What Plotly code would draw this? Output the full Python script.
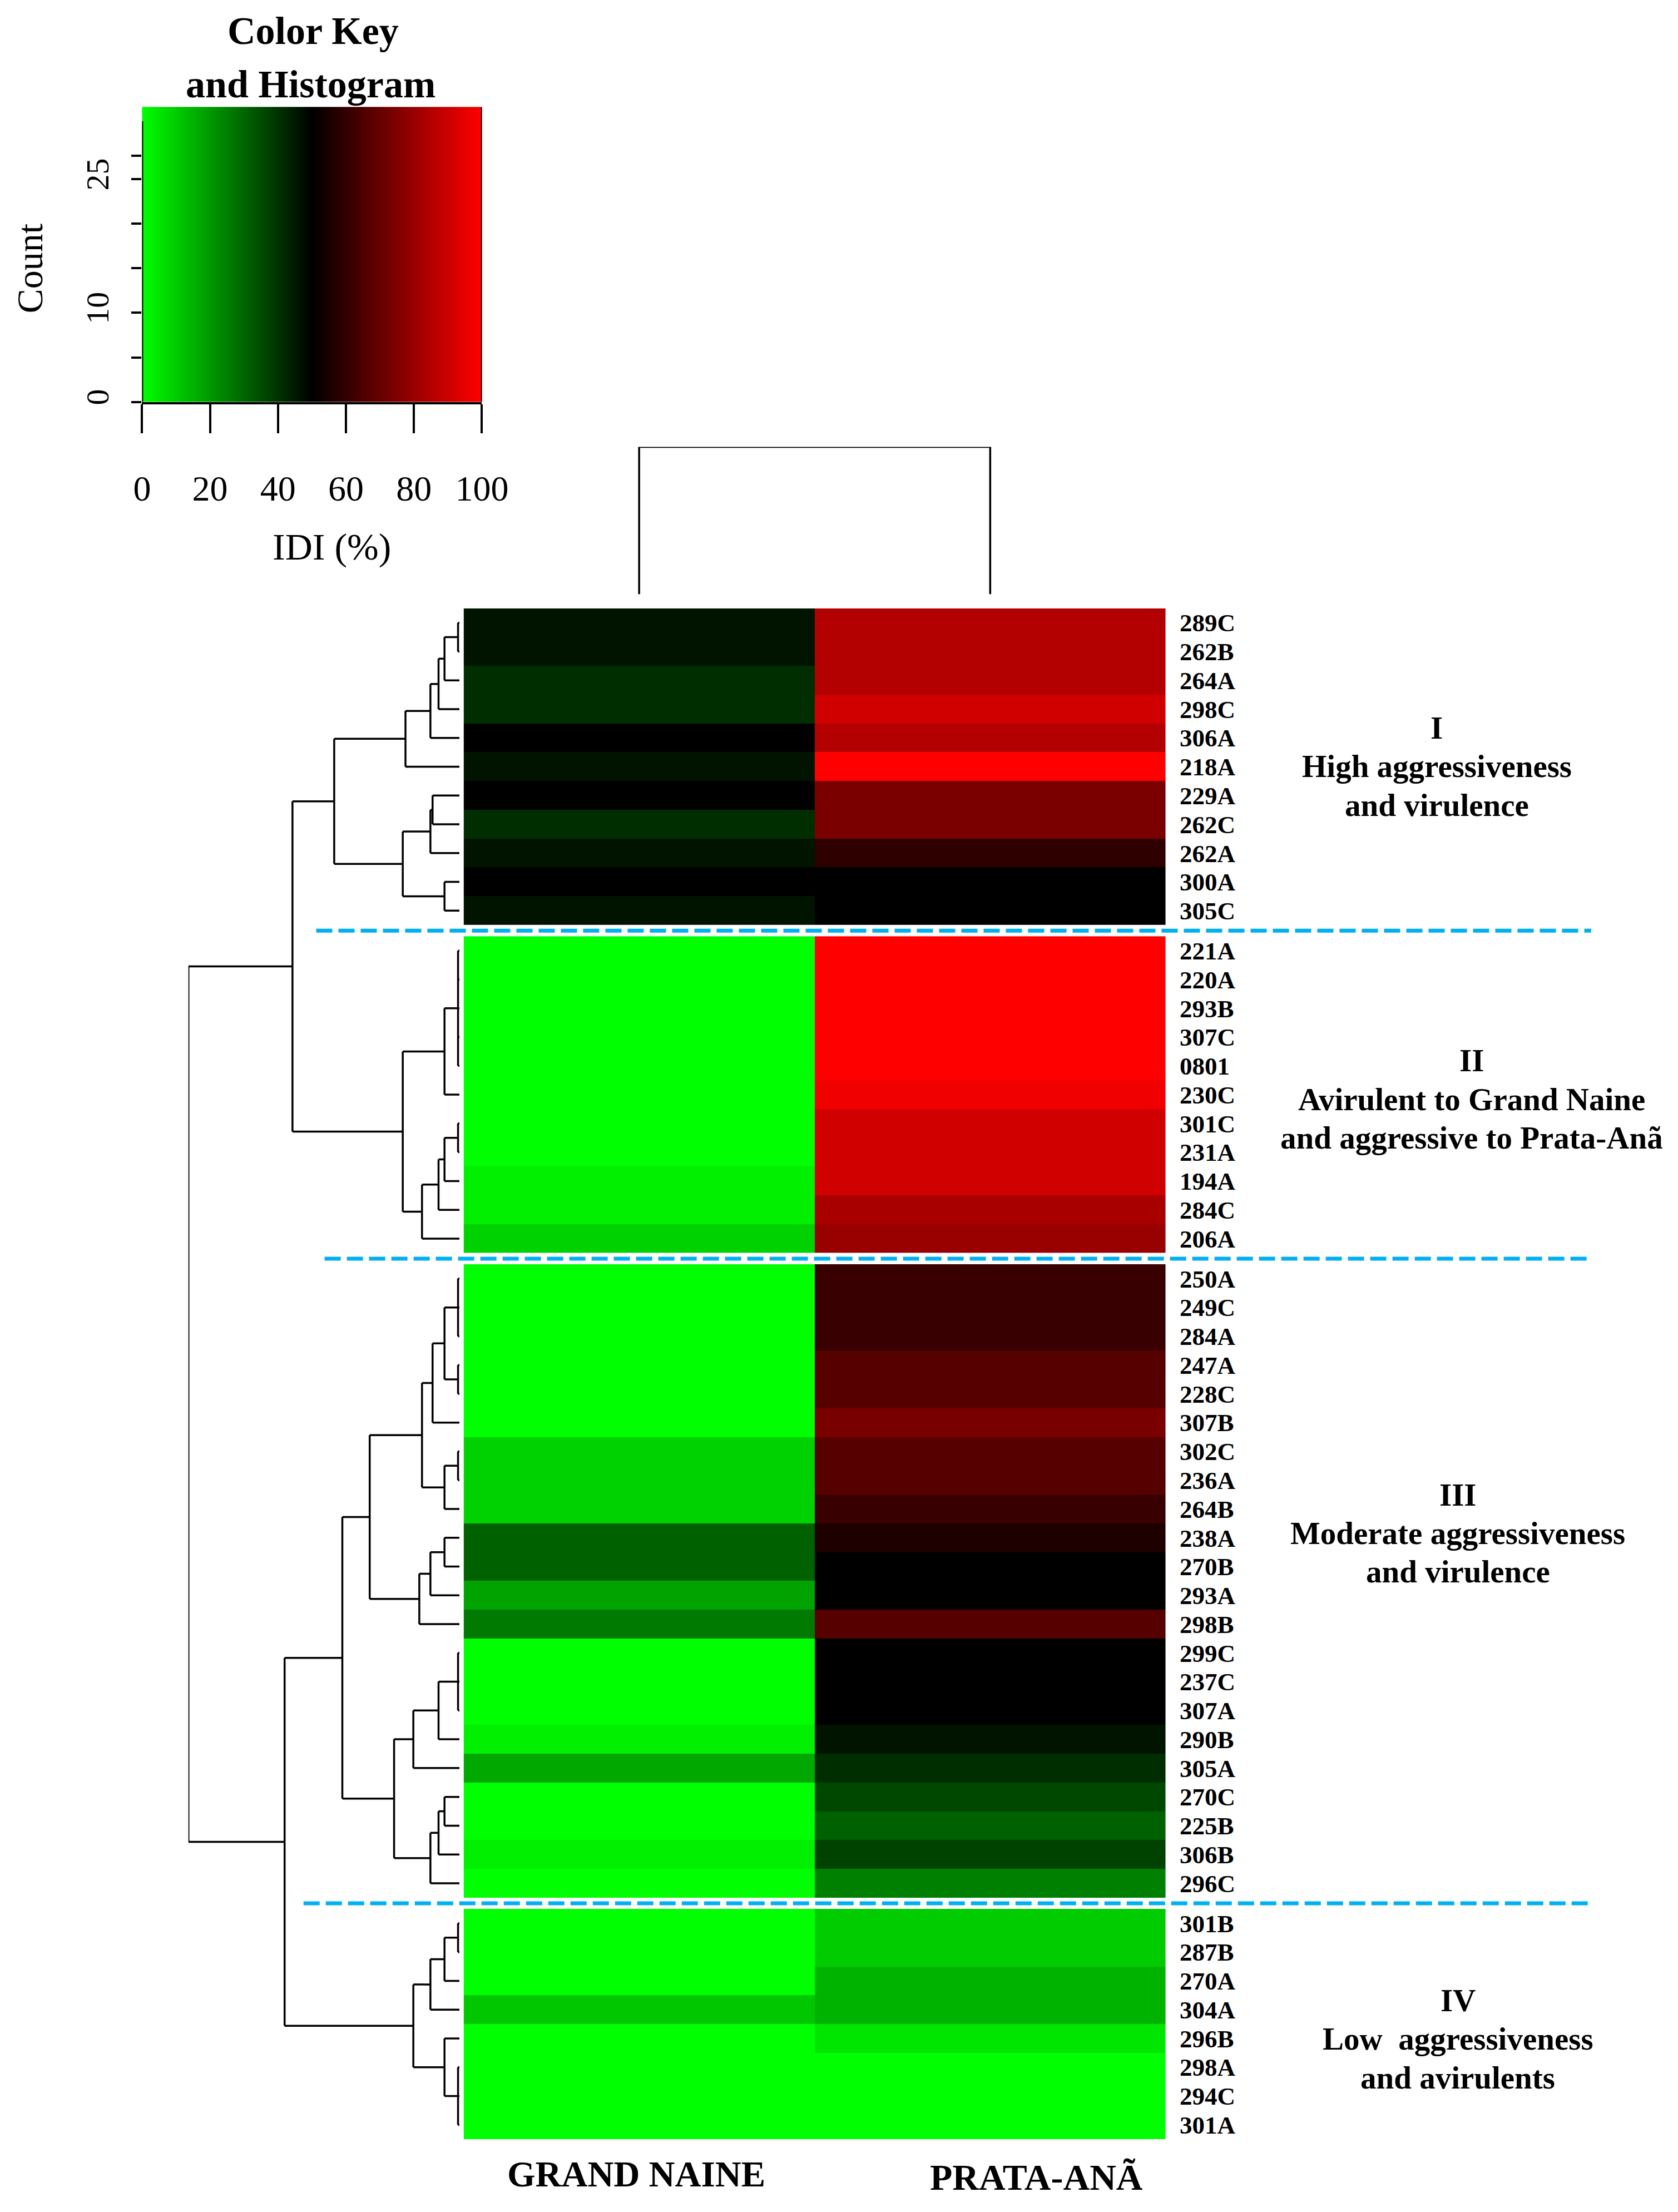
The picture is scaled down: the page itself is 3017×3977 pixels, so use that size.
import numpy as np
import plotly.graph_objects as go

# ---------------- data ----------------
cultivars = ["GRAND NAINE", "PRATA-ANÃ"]

names_I = ["289C", "262B", "264A", "298C", "306A", "218A", "229A", "262C", "262A", "300A", "305C"]
gn_I = [46, 46, 41, 41, 50, 46, 50, 41, 46, 50, 46]
pa_I = [85, 85, 85, 91, 85, 100, 74, 74, 59, 50, 50]

names_II = ["221A", "220A", "293B", "307C", "0801", "230C", "301C", "231A", "194A", "284C", "206A"]
gn_II = [0, 0, 0, 0, 0, 0, 0, 0, 3, 3, 9]
pa_II = [100, 100, 100, 100, 100, 97, 91, 91, 91, 83, 80]

names_III = ["250A", "249C", "284A", "247A", "228C", "307B", "302C", "236A", "264B", "238A", "270B",
             "293A", "298B", "299C", "237C", "307A", "290B", "305A", "270C", "225B", "306B", "296C"]
gn_III = [0, 0, 0, 0, 0, 0, 9, 9, 9, 31, 31, 18, 26, 0, 0, 0, 3, 17, 0, 0, 3, 0]
pa_III = [61, 61, 61, 67, 67, 74, 67, 67, 61, 56, 50, 50, 67, 50, 50, 50, 46, 41, 36, 31, 37, 25]

names_IV = ["301B", "287B", "270A", "304A", "296B", "298A", "294C", "301A"]
gn_IV = [0, 0, 0, 11, 0, 0, 0, 0]
pa_IV = [10, 10, 15, 15, 5, 0, 0, 0]

group_lines = [
    ["I", "High aggressiveness", "and virulence"],
    ["II", "Avirulent to Grand Naine", "and aggressive to Prata-Anã"],
    ["III", "Moderate aggressiveness", "and virulence"],
    ["IV", "Low  aggressiveness", "and avirulents"],
]

key_ticks = [0, 20, 40, 60, 80, 100]
count_ticks = [0, 5, 10, 15, 20, 25, 27.6]
count_labels = ["0", "", "10", "", "", "25", ""]


def N(h, *kids):
    return {"h": h, "kids": list(kids)}


# row dendrogram (merge heights, root = 100)
tree = N(100,
         N(61.6,
           N(46.2,
             N(19.9, N(10.7, N(7.7, N(5.5, N(0.5, "289C", "262B"), "264A"), "298C"), "306A"), "218A"),
             N(20.9, N(10.7, N(9.9, "229A", "262C"), "262A"), N(5.5, "300A", "305C"))),
           N(20.9,
             N(5.5, N(0.5, "221A", "220A", "293B", "307C", "0801"), "230C"),
             N(13.8, N(7.7, N(5.5, N(0.5, "301C", "231A"), "194A"), "284C"), "206A"))),
         N(64.5,
           N(43.2,
             N(33.1,
               N(13.8,
                 N(9.9, N(5.5, N(0.5, "250A", "249C", "284A"), N(0.5, "247A", "228C")), "307B"),
                 N(5.5, N(0.5, "302C", "236A"), "264B")),
               N(14.8, N(10.7, N(5.5, "238A", "270B"), "293A"), "298B")),
             N(24.1,
               N(17.0, N(7.7, N(0.5, "299C", "237C", "307A"), "290B"), "305A"),
               N(10.7, N(7.7, N(5.5, "270C", "225B"), "306B"), "296C"))),
           N(17.0,
             N(10.7, N(5.5, N(0.5, "301B", "287B"), "270A"), "304A"),
             N(5.5, "296B", N(0.5, "298A", "294C", "301A")))))

# ---------------- layout helpers ----------------
W, H = 3017, 3977
SW, SH = 1195.0, 1575.0   # reference sketch units


def px(x):
    return x / SW


def py(y):
    return 1 - y / SH


GAP = 0.39
clusters = [(names_I, gn_I, pa_I), (names_II, gn_II, pa_II),
            (names_III, gn_III, pa_III), (names_IV, gn_IV, pa_IV)]

row_pos = {}
all_names, all_y = [], []
cluster_rows = []
idx = 0
for k, (nm, g, p) in enumerate(clusters):
    ys = []
    for n in nm:
        yv = idx + k * GAP
        ys.append(yv)
        all_names.append(n)
        all_y.append(yv)
        idx += 1
    cluster_rows.append(ys)
    for n, yv in zip(nm, ys):
        row_pos.setdefault(n, []).append(yv)

colorscale = [[0, "#00FF00"], [0.5, "#000000"], [1, "#FF0000"]]
serif = "Liberation Serif"

fig = go.Figure()

# heatmap blocks
for (nm, g, p), ys in zip(clusters, cluster_rows):
    fig.add_trace(go.Heatmap(
        x=[0, 1], y=ys, z=[[a, b] for a, b in zip(g, p)],
        colorscale=colorscale, zmin=0, zmax=100, showscale=False,
        xaxis="x", yaxis="y", hoverinfo="skip"))

# row dendrogram
used = {}


def leaf_y(name):
    i = used.get(name, 0)
    used[name] = i + 1
    return row_pos[name][i]


dx, dy = [], []


def walk(node):
    if isinstance(node, str):
        return leaf_y(node), 0.0
    pts = [walk(c) for c in node["kids"]]
    h = node["h"]
    ys = [p[0] for p in pts]
    for (cy, ch) in pts:
        dx.extend([ch, h, None])
        dy.extend([cy, cy, None])
    dx.extend([h, h, None])
    dy.extend([min(ys), max(ys), None])
    return (min(ys) + max(ys)) / 2, h


walk(tree)
fig.add_trace(go.Scatter(x=dx, y=dy, mode="lines", xaxis="x2", yaxis="y",
                         line=dict(color="black", width=3.5), hoverinfo="skip", showlegend=False))

# column dendrogram
fig.add_trace(go.Scatter(x=[0, 0, 1, 1], y=[0, 1, 1, 0], mode="lines", xaxis="x", yaxis="y3",
                         line=dict(color="black", width=3.5), hoverinfo="skip", showlegend=False))

# color key
kx = np.linspace(0, 100, 201)
fig.add_trace(go.Heatmap(x=kx, y=[0, 33.1], z=[kx, kx], colorscale=colorscale, zmin=0, zmax=100,
                         showscale=False, xaxis="x4", yaxis="y4", hoverinfo="skip"))

total = len(all_y) - 1 + 3 * GAP

fig.update_layout(
    width=W, height=H, margin=dict(l=0, r=0, t=0, b=0, autoexpand=False),
    paper_bgcolor="white", plot_bgcolor="white", showlegend=False,
    xaxis=dict(domain=[px(327), px(827)], range=[-0.5, 1.5], visible=False, anchor="y",
               automargin=False),
    yaxis=dict(domain=[py(1520), py(430)], range=[total + 0.5, -0.5], side="right",
               tickvals=all_y, ticktext=all_names, ticks="", showgrid=False, zeroline=False,
               showline=False, ticklabelstandoff=24, automargin=False,
               tickfont=dict(family=serif, size=45, color="black", weight="bold"), anchor="x"),
    xaxis2=dict(domain=[px(131), px(324)], range=[100, 0], visible=False, anchor="y",
                automargin=False),
    yaxis3=dict(domain=[py(420), py(315)], range=[0, 1], visible=False, anchor="x",
                automargin=False),
    xaxis4=dict(domain=[px(98), px(340)], range=[0, 100], anchor="y4", automargin=False,
                tickvals=key_ticks, ticks="outside", ticklen=52, tickwidth=4, tickcolor="black",
                showline=True, linewidth=4, linecolor="black", showgrid=False, zeroline=False,
                ticklabelstandoff=45, tickfont=dict(family=serif, size=64, color="black")),
    yaxis4=dict(domain=[py(283), py(73)], range=[0, 33.1], anchor="x4", automargin=False,
                tickvals=count_ticks, ticktext=count_labels, ticks="outside", ticklen=18,
                tickwidth=4, tickcolor="black", showline=False, showgrid=False, zeroline=False,
                tickangle=-90, ticklabelstandoff=18,
                tickfont=dict(family=serif, size=58, color="black")),
)

# left axis line of key and right edge
fig.add_shape(type="line", xref="x4", yref="y4", x0=0, x1=0, y0=0, y1=31.5,
              line=dict(color="black", width=4))
fig.add_shape(type="line", xref="x4", yref="y4", x0=100, x1=100, y0=0, y1=33.1,
              line=dict(color="black", width=3))

# dashed separators
gap_centers = [cluster_rows[k][-1] + (1 + GAP) / 2 for k in range(3)]
x_extents = [(222, 1130), (228, 1128), (213, 1130)]
for yc, (x0, x1) in zip(gap_centers, x_extents):
    fig.add_shape(type="line", xref="paper", yref="y", x0=px(x0), x1=px(x1), y0=yc, y1=yc,
                  line=dict(color="#00B0F0", width=7, dash="29px,11px"))

ann = []
# group labels, one annotation per line
group_pos = [(1020, 515), (1045, 752), (1035, 1061), (1035, 1421)]
LINE = 27.5
for lines, (gx, gy) in zip(group_lines, group_pos):
    for j, t in enumerate(lines):
        ann.append(dict(text=t, x=px(gx), y=py(gy + j * LINE), xref="paper", yref="paper",
                        showarrow=False, xanchor="center", yanchor="middle",
                        font=dict(family=serif, size=57, color="black", weight="bold")))
# column labels
ann.append(dict(text=cultivars[0], x=0, xshift=-5, y=py(1545), xref="x", yref="paper", showarrow=False,
                xanchor="center", yanchor="middle",
                font=dict(family=serif, size=65, color="black", weight="bold")))
ann.append(dict(text=cultivars[1], x=1, xshift=83, y=py(1547), xref="x", yref="paper", showarrow=False,
                xanchor="center", yanchor="middle",
                font=dict(family=serif, size=66, color="black", weight="bold")))
# color key texts
ann.append(dict(text="Color Key", x=px(220), y=py(19), xref="paper", yref="paper",
                showarrow=False, xanchor="center", yanchor="middle",
                font=dict(family=serif, size=70, color="black", weight="bold")))
ann.append(dict(text="and Histogram", x=px(218), y=py(57), xref="paper", yref="paper",
                showarrow=False, xanchor="center", yanchor="middle",
                font=dict(family=serif, size=70, color="black", weight="bold")))
ann.append(dict(text="IDI (%)", x=px(233), y=py(386), xref="paper", yref="paper", showarrow=False,
                xanchor="center", yanchor="middle", font=dict(family=serif, size=68, color="black")))
ann.append(dict(text="Count", x=px(18), y=py(188), xref="paper", yref="paper", showarrow=False,
                textangle=-90, xanchor="center", yanchor="middle",
                font=dict(family=serif, size=66, color="black")))
fig.update_layout(annotations=ann)

fig.write_html("out.html")
